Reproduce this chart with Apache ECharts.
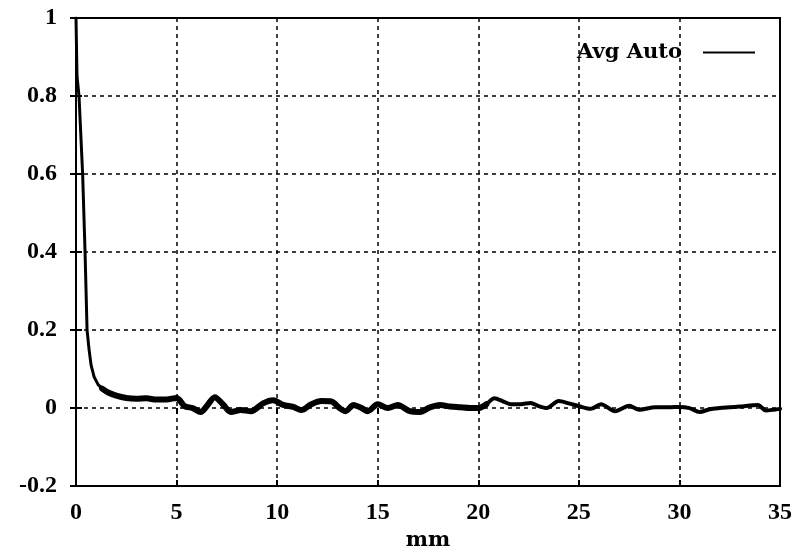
<!DOCTYPE html>
<html>
<head>
<meta charset="utf-8">
<script src="https://cdn.jsdelivr.net/npm/echarts@6/dist/echarts.min.js"></script>
<style>html,body{margin:0;padding:0;background:#fff}#c{width:798px;height:556px}</style>
</head>
<body>
<div id="c"></div>
<script>
const seriesName = 'Avg Auto';
const xAxisLabel = 'mm';
const xTicks = [0, 5, 10, 15, 20, 25, 30, 35];
const yTicks = [-0.2, 0, 0.2, 0.4, 0.6, 0.8, 1];
const distanceMm = [0, 0.05, 0.15, 0.33, 0.45, 0.55, 0.65, 0.75, 0.9, 1.1, 1.3,
  1.6, 2.0, 2.5, 3.0, 3.5, 4.0, 4.5, 5.0, 5.4, 5.8, 6.2, 6.5, 6.9, 7.3, 7.7, 8.2, 8.7,
  9.3, 9.8, 10.3, 10.8, 11.2, 11.7, 12.2, 12.7, 13.1, 13.4, 13.8, 14.2, 14.5, 15.0,
  15.5, 16.0, 16.6, 17.1, 17.6, 18.1, 18.6, 19.1, 19.6, 20.0, 20.4, 20.8, 21.2, 21.6,
  22.1, 22.6, 23.0, 23.4, 24.0, 24.5, 25.0, 25.6, 26.1, 26.8, 27.5, 28.0, 28.8, 29.5,
  30.0, 30.5, 31.0, 31.5, 32.0, 32.5, 33.0, 33.9, 34.3, 34.7, 35.0];
const avgAuto = [1.0, 0.85, 0.8, 0.6, 0.4, 0.2, 0.15, 0.11, 0.08, 0.06, 0.05,
  0.04, 0.032, 0.026, 0.024, 0.025, 0.022, 0.022, 0.026, 0.005, 0.0, -0.01, 0.005, 0.028, 0.01, -0.01, -0.005, -0.008,
  0.012, 0.02, 0.008, 0.003, -0.005, 0.01, 0.018, 0.017, 0.0, -0.008, 0.008, 0.0, -0.008, 0.01,
  0.0, 0.008, -0.008, -0.01, 0.002, 0.008, 0.004, 0.002, 0.0, 0.0, 0.01, 0.025, 0.018, 0.01,
  0.01, 0.013, 0.005, 0.0, 0.018, 0.012, 0.005, -0.002, 0.01, -0.008, 0.006, -0.004, 0.002, 0.002,
  0.003, 0.0, -0.01, -0.003, 0.0, 0.002, 0.004, 0.008, -0.006, -0.004, -0.002];

const pts = distanceMm.map((x, i) => [x, avgAuto[i]]);
const seg = (a, b) => pts.filter(p => p[0] >= a && p[0] <= b);
const tickFont = {color: '#000', fontFamily: 'Liberation Serif', fontWeight: 'bold', fontSize: 24};
const textFont = {color: '#000', fontFamily: 'DejaVu Serif', fontWeight: 'bold', fontSize: 21};

const chart = echarts.init(document.getElementById('c'));
const mkLine = (data, w, smooth) => ({
  name: seriesName, type: 'line', data: data, symbol: 'none', smooth: smooth,
  lineStyle: {color: '#000', width: w, cap: 'round', join: 'round'}, itemStyle: {color: '#000'},
  xAxisIndex: 0, yAxisIndex: 0, z: 5
});
const grid = {color: '#000', type: [4, 4], width: 1.5};
const tick = {inside: true, length: 6, lineStyle: {color: '#000', width: 2}};
chart.setOption({
  animation: false,
  grid: {left: 76, right: 18, top: 18, bottom: 69, show: true, borderColor: '#000', borderWidth: 2},
  legend: {
    data: [{name: seriesName, icon: 'path://M0,0L52,0L52,2L0,2Z'}],
    right: 38, top: 37, align: 'right', itemWidth: 52, itemHeight: 2,
    textStyle: Object.assign({padding: [0, 16, 0, 0]}, textFont)
  },
  xAxis: [{
    type: 'value', min: 0, max: 35, interval: 5,
    name: xAxisLabel, nameLocation: 'middle', nameGap: 40, nameTextStyle: textFont,
    axisLine: {onZero: false, lineStyle: {color: '#000', width: 2}},
    axisTick: tick,
    axisLabel: Object.assign({margin: 15}, tickFont),
    splitLine: {show: true, lineStyle: grid}
  }, {
    type: 'value', position: 'top', min: 0, max: 35, interval: 5,
    axisLine: {show: false}, axisLabel: {show: false}, splitLine: {show: false}, axisTick: tick
  }],
  yAxis: [{
    type: 'value', min: -0.2, max: 1, interval: 0.2,
    axisLine: {onZero: false, lineStyle: {color: '#000', width: 2}},
    axisTick: tick,
    axisLabel: Object.assign({margin: 19, formatter: v => String(Math.round(v * 10) / 10)}, tickFont),
    splitLine: {show: true, lineStyle: grid}
  }, {
    type: 'value', position: 'right', min: -0.2, max: 1, interval: 0.2,
    axisLine: {show: false}, axisLabel: {show: false}, splitLine: {show: false}, axisTick: tick
  }],
  series: [
    mkLine(seg(0, 1.6), 3, false),
    mkLine(seg(1.3, 20.4), 6, 0.3),
    mkLine(seg(20.0, 35), 4, 0.3)
  ]
});
</script>
</body>
</html>
